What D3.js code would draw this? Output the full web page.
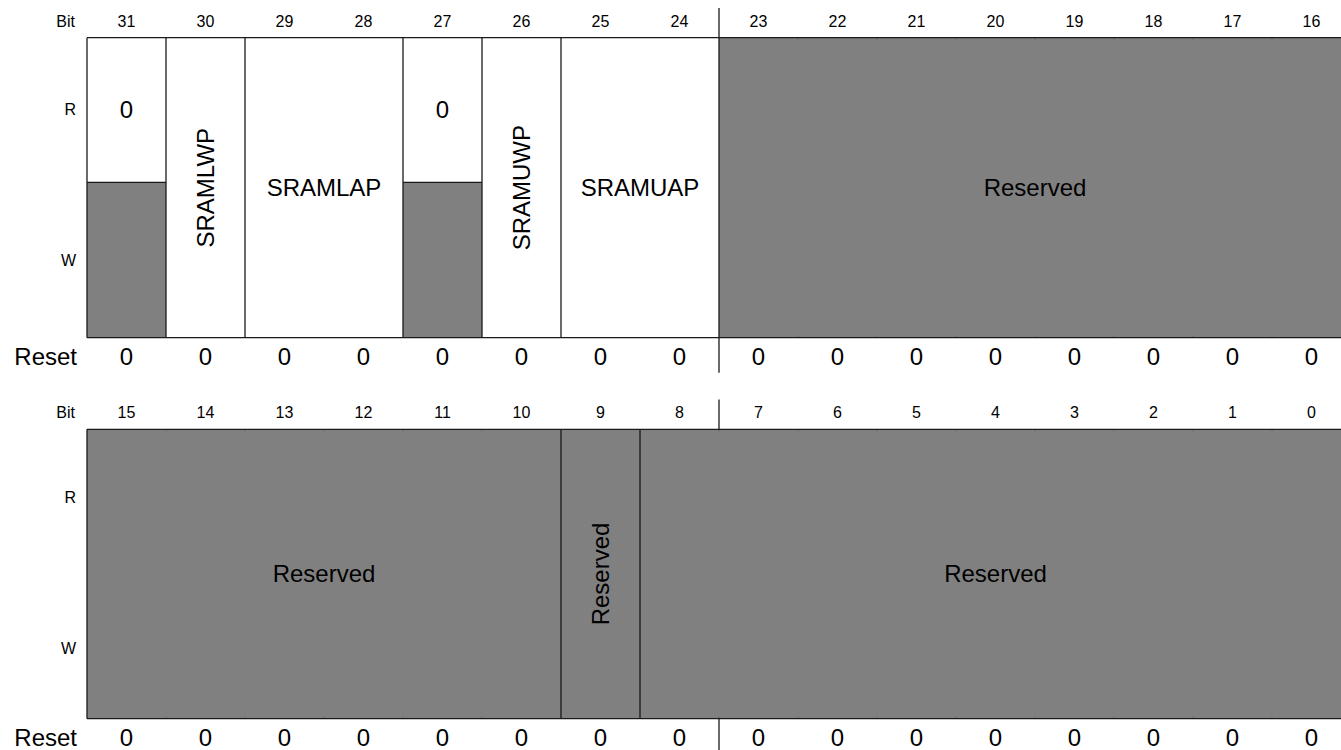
<!DOCTYPE html>
<html><head><meta charset="utf-8">
<script src="https://cdn.jsdelivr.net/npm/d3@7"></script>
<style>html,body{margin:0;padding:0;background:#fff;overflow:hidden}</style>
</head><body>
<svg id="chart" width="1341" height="750"></svg>
<script>
// ---- data ----
const bitsTop = [31,30,29,28,27,26,25,24,23,22,21,20,19,18,17,16];
const bitsBottom = [15,14,13,12,11,10,9,8,7,6,5,4,3,2,1,0];
const resetTop = [0,0,0,0,0,0,0,0,0,0,0,0,0,0,0,0];
const resetBottom = [0,0,0,0,0,0,0,0,0,0,0,0,0,0,0,0];
const fieldNamesTop = ["", "SRAMLWP", "SRAMLAP", "", "SRAMUWP", "SRAMUAP", "Reserved"];
const fieldMsbTop   = [31, 30, 29, 27, 26, 25, 23];
const fieldLsbTop   = [31, 30, 28, 27, 26, 24, 16];
const fieldTypeTop  = ["ro", "rw", "rw", "ro", "rw", "rw", "res"];
const readValueTop  = ["0", "", "", "0", "", "", ""];
const fieldNamesBottom = ["Reserved", "Reserved", "Reserved"];
const fieldMsbBottom   = [15, 9, 8];
const fieldLsbBottom   = [10, 9, 0];
const fieldTypeBottom  = ["res", "res", "res"];
const readValueBottom  = ["", "", ""];
const accessLabels = ["R", "W"];

// ---- layout ----
const svg = d3.select("#chart");
const FONT = "'Liberation Sans', Arial, Helvetica, sans-serif";
const GRAY = "#808080", LINE = "#1a1a1a", LW = 1.3;
const BIG = 24, SMALL = 16;

const panels = [
  {bits: bitsTop, reset: resetTop, names: fieldNamesTop, msb: fieldMsbTop, lsb: fieldLsbTop,
   type: fieldTypeTop, rv: readValueTop, top: 37.7, bottom: 337.7, split: 182.3, rY: 109, wY: 260},
  {bits: bitsBottom, reset: resetBottom, names: fieldNamesBottom, msb: fieldMsbBottom, lsb: fieldLsbBottom,
   type: fieldTypeBottom, rv: readValueBottom, top: 429.3, bottom: 718.7, split: 568.8, rY: 497, wY: 648}
];

panels.forEach(p => {
  const x = d3.scaleBand().domain(p.bits).range([87, 87 + 79*16]).padding(0);
  const g = svg.append("g");
  const fields = p.names.map((n,i) => ({name:n, msb:p.msb[i], lsb:p.lsb[i], type:p.type[i], rv:p.rv[i]}));

  // field backgrounds
  fields.forEach(f => {
    const x0 = x(f.msb), x1 = x(f.lsb) + x.bandwidth();
    if (f.type === "res") {
      g.append("rect").attr("x", x0).attr("y", p.top).attr("width", x1-x0).attr("height", p.bottom-p.top).attr("fill", GRAY);
    } else if (f.type === "ro") {
      g.append("rect").attr("x", x0).attr("y", p.top).attr("width", x1-x0).attr("height", p.split-p.top).attr("fill", "#fff");
      g.append("rect").attr("x", x0).attr("y", p.split).attr("width", x1-x0).attr("height", p.bottom-p.split).attr("fill", GRAY);
      g.append("line").attr("x1", x0).attr("x2", x1).attr("y1", p.split).attr("y2", p.split).attr("stroke", LINE).attr("stroke-width", LW);
    } else {
      g.append("rect").attr("x", x0).attr("y", p.top).attr("width", x1-x0).attr("height", p.bottom-p.top).attr("fill", "#fff");
    }
  });
  // faint bit separators inside reserved
  fields.filter(f => f.type === "res").forEach(f => {
    p.bits.filter(b => b < f.msb && b >= f.lsb).forEach(b => {
      g.append("line").attr("x1", x(b)).attr("x2", x(b)).attr("y1", p.top).attr("y2", p.top+2).attr("stroke", "#555").attr("stroke-width", 0.6);
      g.append("line").attr("x1", x(b)).attr("x2", x(b)).attr("y1", p.bottom-2).attr("y2", p.bottom).attr("stroke", "#555").attr("stroke-width", 0.6);
    });
  });
  // field borders
  fields.forEach(f => {
    const x0 = x(f.msb);
    g.append("line").attr("x1", x0).attr("x2", x0).attr("y1", p.top).attr("y2", p.bottom).attr("stroke", LINE).attr("stroke-width", LW);
  });
  g.append("line").attr("x1", x(p.bits[0])).attr("x2", 1345).attr("y1", p.top).attr("y2", p.top).attr("stroke", LINE).attr("stroke-width", LW);
  g.append("line").attr("x1", x(p.bits[0])).attr("x2", 1345).attr("y1", p.bottom).attr("y2", p.bottom).attr("stroke", LINE).attr("stroke-width", LW);

  // field labels
  fields.forEach(f => {
    const x0 = x(f.msb), x1 = x(f.lsb) + x.bandwidth();
    const cx = (x0+x1)/2;
    if (f.type === "ro") {
      g.append("text").attr("x", cx).attr("y", (p.top+p.split)/2).attr("dy", "0.35em").attr("text-anchor", "middle")
        .attr("font-family", FONT).attr("font-size", BIG).text(f.rv);
    }
    if (f.name) {
      const cy = (p.top+p.bottom)/2;
      const t = g.append("text").attr("text-anchor", "middle").attr("dy", "0.35em")
        .attr("font-family", FONT).attr("font-size", BIG).text(f.name);
      if (f.msb === f.lsb) t.attr("transform", `translate(${cx},${cy}) rotate(-90)`);
      else t.attr("x", cx).attr("y", cy);
    }
  });

  // bit numbers
  const bitBase = p.top - 11;
  g.append("text").attr("x", 75).attr("y", bitBase).attr("text-anchor", "end").attr("font-family", FONT).attr("font-size", SMALL).text("Bit");
  g.selectAll("text.bit").data(p.bits).join("text").attr("class","bit")
    .attr("x", d => x(d) + x.bandwidth()/2).attr("y", bitBase).attr("text-anchor", "middle")
    .attr("font-family", FONT).attr("font-size", SMALL).text(d => d);

  // R/W labels
  [p.rY, p.wY].forEach((yy,i) => {
    g.append("text").attr("x", 76).attr("y", yy).attr("dy", "0.35em").attr("text-anchor", "end")
      .attr("font-family", FONT).attr("font-size", SMALL).text(accessLabels[i]);
  });

  // reset row
  const resBase = p.bottom + 27.3;
  g.append("text").attr("x", 77).attr("y", resBase).attr("text-anchor", "end").attr("font-family", FONT).attr("font-size", BIG).text("Reset");
  g.selectAll("text.rst").data(p.bits).join("text").attr("class","rst")
    .attr("x", d => x(d) + x.bandwidth()/2).attr("y", resBase).attr("text-anchor", "middle")
    .attr("font-family", FONT).attr("font-size", BIG).text((d,i) => p.reset[i]);

  // half-word divider ticks
  const xd = x(p.bits[7]) + x.bandwidth();
  g.append("line").attr("x1", xd).attr("x2", xd).attr("y1", p.top-29.7).attr("y2", p.top).attr("stroke", LINE).attr("stroke-width", LW);
  g.append("line").attr("x1", xd).attr("x2", xd).attr("y1", p.bottom).attr("y2", p.bottom+35).attr("stroke", LINE).attr("stroke-width", LW);
});
</script>
</body></html>
